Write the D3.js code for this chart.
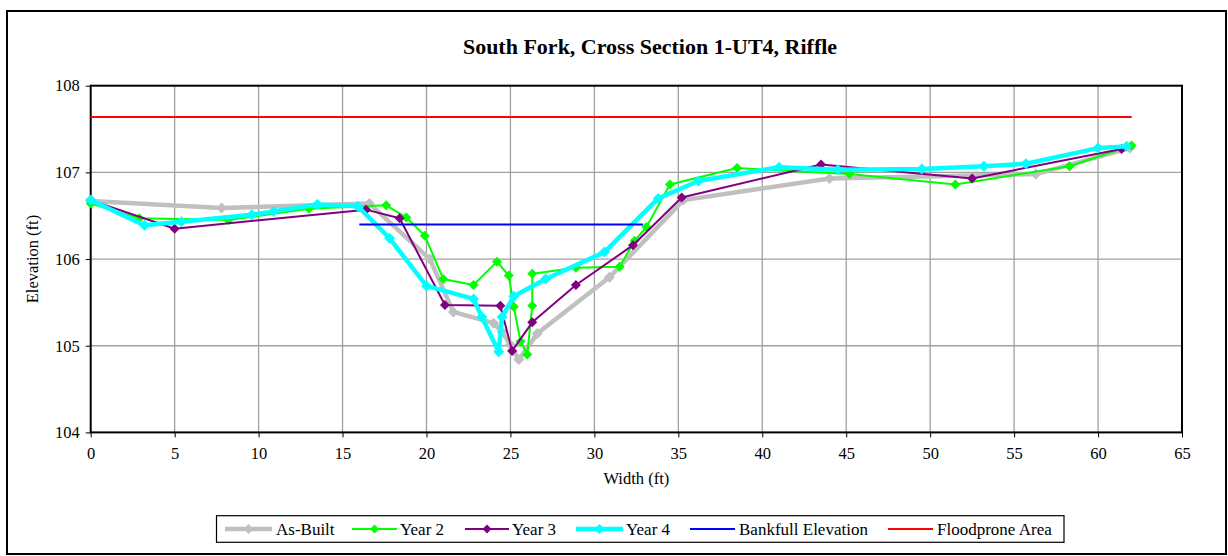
<!DOCTYPE html>
<html>
<head>
<meta charset="utf-8">
<script src="https://cdn.jsdelivr.net/npm/d3@7/dist/d3.min.js"></script>
<style>
  html, body { margin: 0; padding: 0; background: #fff; }
  svg { display: block; font-family: "Liberation Serif", "Times New Roman", serif; }
</style>
</head>
<body>
<svg id="chart" width="1228" height="556"></svg>
<script>
// ---- Data ----
const title = "South Fork, Cross Section 1-UT4, Riffle";
const xTicks = [0, 5, 10, 15, 20, 25, 30, 35, 40, 45, 50, 55, 60, 65];
const yTicks = [104, 105, 106, 107, 108];

const asBuiltX = [0, 7.8, 16.6, 20.2, 21.6, 24.0, 24.5, 25.0, 25.5, 26.6, 30.9, 35.3, 44.0, 56.3, 61.9];
const asBuiltY = [106.67, 106.59, 106.64, 106.0, 105.39, 105.26, 105.16, 105.01, 104.84, 105.14, 105.79, 106.68, 106.93, 106.98, 107.28];

const year2X = [0, 2.9, 8.2, 13.0, 17.6, 18.8, 19.9, 21.0, 22.8, 24.2, 24.9, 25.2, 25.6, 26.0, 26.3, 26.3, 28.9, 31.5, 32.4, 33.1, 34.5, 38.5, 45.2, 51.5, 58.3, 62.0];
const year2Y = [106.64, 106.47, 106.45, 106.58, 106.62, 106.48, 106.27, 105.77, 105.70, 105.97, 105.81, 105.45, 105.05, 104.90, 105.46, 105.83, 105.90, 105.91, 106.21, 106.37, 106.86, 107.05, 106.98, 106.86, 107.07, 107.31];

const year3X = [0, 5.0, 16.4, 18.4, 21.1, 24.4, 25.1, 26.3, 28.9, 32.3, 35.2, 43.5, 52.5, 61.4];
const year3Y = [106.68, 106.35, 106.57, 106.47, 105.47, 105.46, 104.94, 105.27, 105.70, 106.16, 106.71, 107.09, 106.93, 107.27];

const year4X = [0, 3.2, 5.4, 9.6, 10.9, 13.5, 15.9, 17.8, 20.0, 22.8, 23.3, 24.3, 24.5, 25.2, 27.1, 30.6, 33.8, 36.2, 41.0, 44.5, 49.5, 53.2, 55.7, 60.0, 61.7];
const year4Y = [106.68, 106.39, 106.43, 106.51, 106.55, 106.63, 106.61, 106.24, 105.69, 105.54, 105.33, 104.93, 105.33, 105.57, 105.77, 106.08, 106.70, 106.90, 107.06, 107.03, 107.04, 107.07, 107.10, 107.28, 107.30];

const bankfullX = [16.0, 32.9];
const bankfullY = [106.40, 106.40];

const floodX = [0, 62.0];
const floodY = [107.64, 107.64];

const seriesNames = ["As-Built", "Year 2", "Year 3", "Year 4", "Bankfull Elevation", "Floodprone Area"];

// ---- Styles ----
const styles = [
  { color: "#c0c0c0", width: 4.5, marker: true, msize: 11 },
  { color: "#00ff00", width: 2, marker: true, msize: 10 },
  { color: "#800080", width: 2, marker: true, msize: 10 },
  { color: "#00ffff", width: 4.5, marker: true, msize: 11 },
  { color: "#0000ff", width: 2, marker: false },
  { color: "#ff0000", width: 2, marker: false }
];

const seriesData = [
  [asBuiltX, asBuiltY], [year2X, year2Y], [year3X, year3Y], [year4X, year4Y],
  [bankfullX, bankfullY], [floodX, floodY]
].map(([xs, ys]) => xs.map((x, i) => ({ x, y: ys[i] })));

// ---- Layout ----
const svg = d3.select("#chart");
const plot = { left: 90.7, right: 1182, top: 85.7, bottom: 432.4 };

const x = d3.scaleLinear().domain([0, 65]).range([plot.left, plot.right]);
const y = d3.scaleLinear().domain([104, 108]).range([plot.bottom, plot.top]);

// outer frame
svg.append("rect").attr("x", 7).attr("y", 11).attr("width", 1219).attr("height", 543)
  .attr("fill", "#fff").attr("stroke", "#000").attr("stroke-width", 2);

// title
svg.append("text").attr("x", 650).attr("y", 54).attr("text-anchor", "middle")
  .attr("font-size", 22).attr("font-weight", "bold").text(title);

// gridlines
const grid = svg.append("g");
grid.selectAll("line.v").data(xTicks.slice(1, -1)).join("line")
  .attr("x1", d => x(d)).attr("x2", d => x(d)).attr("y1", plot.top).attr("y2", plot.bottom)
  .attr("stroke", "#a0a0a0").attr("stroke-width", 1.3);
grid.selectAll("line.h").data(yTicks.slice(1, -1)).join("line")
  .attr("y1", d => y(d)).attr("y2", d => y(d)).attr("x1", plot.left).attr("x2", plot.right)
  .attr("stroke", "#a0a0a0").attr("stroke-width", 1.3);

// axes
const xAxis = d3.axisBottom(x).tickValues(xTicks).tickSize(5).tickPadding(10).tickFormat(d3.format("d"));
const yAxis = d3.axisLeft(y).tickValues(yTicks).tickSize(5).tickPadding(6).tickFormat(d3.format("d"));

const gx = svg.append("g").attr("transform", `translate(0,${plot.bottom})`).call(xAxis);
const gy = svg.append("g").attr("transform", `translate(${plot.left},0)`).call(yAxis);
[gx, gy].forEach(g => {
  g.attr("font-family", null);
  g.select(".domain").remove();
  g.selectAll(".tick line").attr("stroke", "#000").attr("stroke-width", 1);
  g.selectAll(".tick text").attr("font-family", "Liberation Serif, Times New Roman, serif")
    .attr("font-size", 16.5).attr("fill", "#000");
});

// plot border
svg.append("rect").attr("x", plot.left).attr("y", plot.top)
  .attr("width", plot.right - plot.left).attr("height", plot.bottom - plot.top)
  .attr("fill", "none").attr("stroke", "#000").attr("stroke-width", 2);

// axis titles
svg.append("text").attr("x", (plot.left + plot.right) / 2).attr("y", 484).attr("text-anchor", "middle")
  .attr("font-size", 16.5).text("Width (ft)");
svg.append("text").attr("transform", `translate(38,${(plot.top + plot.bottom) / 2}) rotate(-90)`)
  .attr("text-anchor", "middle").attr("font-size", 16.5).text("Elevation (ft)");

// series
const line = d3.line().x(d => x(d.x)).y(d => y(d.y));
const diamond = s => `M0,${-s / 2}L${s / 2},0L0,${s / 2}L${-s / 2},0Z`;

const gSeries = svg.append("g");
seriesData.forEach((data, i) => {
  const st = styles[i];
  const g = gSeries.append("g");
  g.append("path").datum(data).attr("d", line).attr("fill", "none")
    .attr("stroke", st.color).attr("stroke-width", st.width).attr("stroke-linejoin", "round");
  if (st.marker) {
    g.selectAll("path.m").data(data).join("path").attr("class", "m")
      .attr("transform", d => `translate(${x(d.x)},${y(d.y)})`)
      .attr("d", diamond(st.msize)).attr("fill", st.color);
  }
});

// legend
const legend = svg.append("g");
legend.append("rect").attr("x", 216.5).attr("y", 515.7).attr("width", 847.5).attr("height", 26.6)
  .attr("fill", "#fff").attr("stroke", "#000").attr("stroke-width", 1.2);
const legItems = [
  { x1: 225, x2: 272, tx: 276 },
  { x1: 352, x2: 397, tx: 400 },
  { x1: 465, x2: 509, tx: 512 },
  { x1: 576, x2: 623, tx: 626 },
  { x1: 690, x2: 735, tx: 739 },
  { x1: 888, x2: 933, tx: 937 }
];
const ly = 529;
legItems.forEach((it, i) => {
  const st = styles[i];
  legend.append("line").attr("x1", it.x1).attr("x2", it.x2).attr("y1", ly).attr("y2", ly)
    .attr("stroke", st.color).attr("stroke-width", st.width);
  if (st.marker) {
    legend.append("path").attr("transform", `translate(${(it.x1 + it.x2) / 2},${ly})`)
      .attr("d", diamond(st.msize * 0.9)).attr("fill", st.color);
  }
  legend.append("text").attr("x", it.tx).attr("y", ly + 6).attr("font-size", 17).text(seriesNames[i]);
});
</script>
</body>
</html>
